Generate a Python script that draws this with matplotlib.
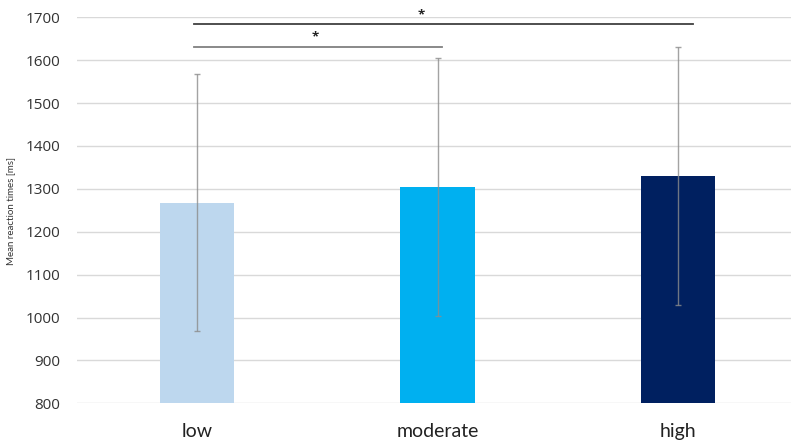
"""Mean reaction times by load level, Excel-style bar chart."""

import matplotlib

matplotlib.use("Agg")

import matplotlib.pyplot as plt

categories = ["low", "moderate", "high"]
means = [1268, 1304, 1330]
errors = [300, 300, 300]
bar_colors = ["#BDD7EE", "#00B0F0", "#002060"]

# significance brackets: (x start, x end, y, star x, star y, colour)
sig_lines = [
    (-0.013, 2.06, 1685, 0.93, 1705, "#404040"),
    (-0.013, 1.02, 1631, 0.49, 1654, "#808080"),
]

plt.rcParams["font.family"] = ["Lato", "DejaVu Sans"]

fig = plt.figure(figsize=(7.91, 4.4), dpi=100)
ax = fig.add_axes([0.0973, 0.0834, 0.912, 0.8773])

x = list(range(len(categories)))
ax.bar(x, [m - 800 for m in means], bottom=800, width=0.31, color=bar_colors, zorder=2)
ax.errorbar(
    x,
    means,
    yerr=errors,
    fmt="none",
    ecolor="#8c8c8c",
    elinewidth=1.0,
    capsize=2,
    capthick=1.0,
    alpha=0.8,
    zorder=3,
)

for x0, x1, y, sx, sy, col in sig_lines:
    ax.plot([x0, x1], [y, y], color=col, linewidth=1.3, clip_on=False, zorder=4)
    ax.text(sx, sy, "*", ha="center", va="center", fontsize=9.5, fontweight="bold",
            color="#222222", family=["Open Sans", "DejaVu Sans"])

ax.set_xlim(-0.5, 2.5)
ax.set_ylim(800, 1700)
ax.set_yticks(range(800, 1701, 100))
ax.set_xticks(x)
ax.set_xticklabels(categories, fontsize=14, color="#222222")
for lbl in ax.get_yticklabels():
    lbl.set_family(["Open Sans", "DejaVu Sans"])
ax.tick_params(axis="y", labelsize=11, colors="#333333", length=0, pad=12)
ax.tick_params(axis="x", length=0, pad=14)
ax.grid(axis="y", color="#d9d9d9", linewidth=1.0, zorder=0)
ax.set_axisbelow(True)
for spine in ax.spines.values():
    spine.set_visible(False)

fig.text(0.014, 0.52, "Mean reaction times [ms]", rotation=90, ha="center", va="center",
         fontsize=7, color="#333333")

fig.savefig("out.png", dpi=100, facecolor="white")
plt.close(fig)
